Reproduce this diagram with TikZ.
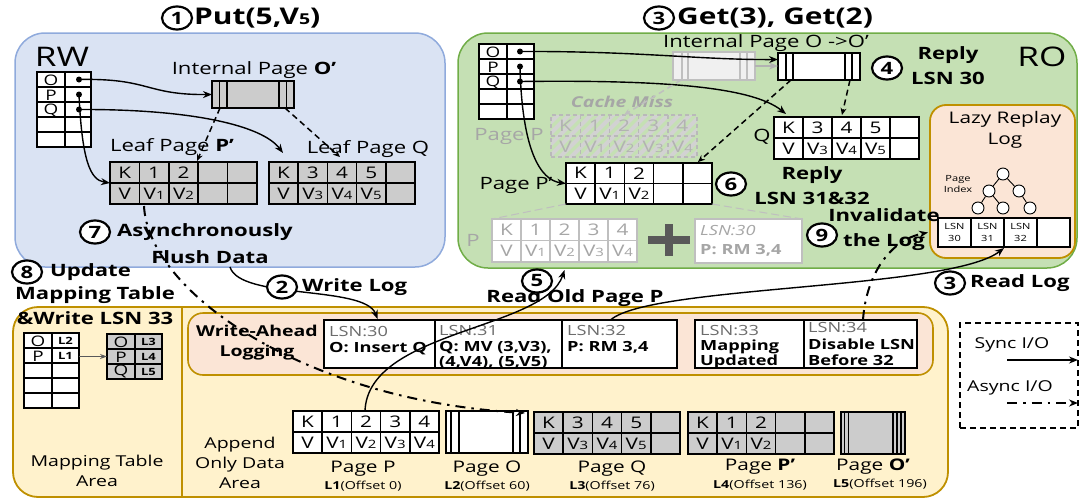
\documentclass[tikz,border=0pt]{standalone}
\usepackage{fontspec}
\setmainfont{Open Sans}[FakeStretch=1.3]
\usetikzlibrary{arrows.meta,calc,shapes.geometric}
\definecolor{rwfill}{HTML}{DAE3F3}
\definecolor{rwline}{HTML}{8FAADC}
\definecolor{rofill}{HTML}{C5E0B4}
\definecolor{roline}{HTML}{70AD47}
\definecolor{yfill}{HTML}{FFF2CC}
\definecolor{gold}{HTML}{BF9000}
\definecolor{peach}{HTML}{FBE5D6}
\definecolor{cgray}{HTML}{CCCCCC}
\definecolor{fadetxt}{HTML}{A6A6A6}
\definecolor{fadeln}{HTML}{BFBFBF}
\definecolor{plusc}{HTML}{595959}
\newcommand{\fsz}[1]{\fontsize{#1}{#1}\selectfont}
\newcommand{\sbs}[1]{{\fsz{11.5}#1}}
\newcommand{\boxnode}[6][]{\node[#1, anchor=north west, inner sep=0pt, outer sep=0pt, minimum width={(#5-#3)*1pt}, minimum height={(#6-#4)*1pt}] (#2) at (#3,#4) {};}
\newcommand{\kvt}[9]{%
  \boxnode[#6]{#1}{#2}{#3}{#4}{#5}
  \foreach \jj in {1,2,3,4}{\draw[#6,fill=none] ({#2+\jj*(#4-#2)/5},#3) -- ({#2+\jj*(#4-#2)/5},#5);}
  \draw[#6,fill=none] (#2,{(#3+#5)/2}) -- (#4,{(#3+#5)/2});
  \foreach \cc [count=\ii] in {#8}{\node[cell,text=#7] (#1-t\ii) at ({#2+(\ii-0.5)*(#4-#2)/5},{#3+(#5-#3)/4}) {\cc};}
  \foreach \cc [count=\ii] in {#9}{\node[cell,text=#7] (#1-b\ii) at ({#2+(\ii-0.5)*(#4-#2)/5},{#3+3*(#5-#3)/4}) {\cc};}
}
\begin{document}
\begin{tikzpicture}[x=1pt,y=-1pt,
  lbl/.style={inner sep=0pt, font=\fsz{17}},
  title/.style={inner sep=0pt, font=\bfseries\fsz{23}},
  stepl/.style={inner sep=0pt, align=center, font=\bfseries\fontsize{17}{25}\selectfont},
  num/.style={ellipse, draw, fill=white, line width=2.2pt, minimum width=30pt, minimum height=23pt, inner sep=0pt, font=\bfseries\fsz{17}},
  cell/.style={inner sep=0pt, font=\fsz{16}},
  rcell/.style={inner sep=0pt, font=\fsz{14.5}},
  smallb/.style={inner sep=0pt, font=\bfseries\fsz{10}},
  logt/.style={inner sep=0pt, anchor=base west, font=\fsz{14}, text=gray!85!black},
  logb/.style={inner sep=0pt, anchor=base west, font=\bfseries\fsz{14}},
  conn/.style={line width=1.4pt, -{Stealth[length=9pt,width=7pt]}},
  asyncl/.style={line width=2pt, -{Stealth[length=9pt,width=7pt]}, dash pattern=on 10pt off 6pt on 2.5pt off 6pt},
  dsh/.style={line width=1.5pt, dash pattern=on 6pt off 4pt, -{Stealth[length=7pt,width=6pt]}},
  dotn/.style={circle, fill=black, inner sep=0pt, minimum size=6pt},
  tabl/.style={draw=black, line width=1.6pt},
  gtab/.style={draw=black, line width=1.6pt, fill=cgray},
  wtab/.style={draw=black, line width=1.6pt, fill=white},
  ftab/.style={draw=fadeln, line width=1.6pt, fill=white},
  tnode/.style={circle, draw, fill=white, line width=0.9pt, minimum size=12pt, inner sep=0pt},
]
\useasboundingbox (0,0) rectangle (1080,498);

% ---------- areas
\boxnode[draw=rwline, fill=rwfill, line width=1.5pt, rounded corners=30pt]{RW}{15}{33}{445}{267}
\boxnode[draw=roline, fill=rofill, line width=1.5pt, rounded corners=30pt]{RO}{458}{33}{1077}{268}
\boxnode[draw=gold, fill=yfill, line width=1.8pt, rounded corners=25pt]{BOT}{13}{307}{948}{497}
\draw[gold, line width=1.8pt] ($(BOT.north west)+(169,0)$) -- ($(BOT.south west)+(169,0)$);
\boxnode[draw=gold, fill=peach, line width=1.6pt, rounded corners=15pt]{WAL}{188}{313}{933}{375}
\boxnode[draw=gold, fill=peach, line width=1.8pt, rounded corners=16pt]{LZ}{930}{105}{1075}{258}
\boxnode[draw=black, line width=1.3pt, dash pattern=on 6pt off 4pt]{LEG}{960}{323}{1078}{428}

% ---------- titles
\node[title, anchor=west] (tPut) at (194,18) {Put(5,V{\fsz{15}5})};
\node[title, anchor=west] (tGet) at (677,18) {Get(3), Get(2)};

% ---------- RW side
\node[inner sep=0pt, font=\fsz{27}] (RWl) at (62,57) {RW};
\boxnode[wtab]{rwT}{37}{72}{91}{147}
\draw[tabl] (65,72) -- (65,147);
\foreach \r in {87,102,117,132} \draw[tabl] (37,\r) -- (91,\r);
\node[rcell] (rwTO) at (51,80) {O};
\node[rcell] (rwTP) at (51,95) {P};
\node[rcell] (rwTQ) at (51,110) {Q};
\node[dotn] (rwdO) at (79,79.5) {};
\node[dotn] (rwdP) at (79,94.5) {};
\node[dotn] (rwdQ) at (79,109.5) {};

\node[lbl] (rwIPl) at (254,70) {Internal Page \textbf{O’}};
\boxnode[gtab]{rwIP}{212}{81}{294}{108}
\foreach \xx in {219.5,227,279,286.5} \draw[tabl] (\xx,81) -- (\xx,108);

\node[lbl] (rwLPl) at (172,147) {Leaf Page \textbf{P’}};
\kvt{rwLP}{110}{162}{257}{204}{gtab}{black}{K,1,2,{},{}}{V,V\sbs1,V\sbs2,{},{}}
\node[lbl] (rwLQl) at (368,149) {Leaf Page Q};
\kvt{rwLQ}{269}{162}{415}{204}{gtab}{black}{K,3,4,5,{}}{V,V\sbs3,V\sbs4,V\sbs5,{}}

\coordinate (rwQin) at (283,153);
\draw[conn] (rwdO.center) .. controls (150,78) and (145,95) .. (rwIP.west);
\draw[conn] (rwdP.center) .. controls (82,160) and (90,180) .. (rwLP.west);
\draw[conn] (rwdQ.center) .. controls (190,109) and (262,125) .. (rwQin);
\draw[dsh] ($(rwIP.south west)+(8,0)$) -- ($(rwLP.north west)+(87,-1)$);
\draw[dsh] ($(rwIP.south east)+(-9,0)$) -- ($(rwLQ.north west)+(71,-5)$);

\node[stepl, anchor=west] (s7a) at (117,232) {Asynchronously};
\node[stepl] (s7b) at (210,257) {Flush Data};

% ---------- RO side
\node[inner sep=0pt, font=\fsz{27}] (ROl) at (1042,57) {RO};
\boxnode[wtab]{roT}{479}{44}{534}{119}
\draw[tabl] (507,44) -- (507,119);
\foreach \r in {59,74,89,104} \draw[tabl] (479,\r) -- (534,\r);
\node[rcell] (roTO) at (493,52) {O};
\node[rcell] (roTP) at (493,67) {P};
\node[rcell] (roTQ) at (493,82) {Q};
\node[dotn] (rodO) at (520,51.5) {};
\node[dotn] (rodP) at (520,66.5) {};
\node[dotn] (rodQ) at (520,81.5) {};

\node[lbl] (roIPl) at (766,43) {Internal Page O ->O’};
\boxnode[draw=fadeln, fill=gray!12, line width=1.4pt]{faIP}{673}{52}{755}{80}
\foreach \xx in {682,688,740,747} \draw[fadeln, line width=1.4pt] (\xx,52) -- (\xx,80);
\boxnode[wtab]{roIP}{778}{53}{860}{80}
\foreach \xx in {786,793,845,852} \draw[tabl] (\xx,53) -- (\xx,80);

% cache miss page
\begin{scope}
\clip (551,115) rectangle (697,157);
\foreach \k in {0,11,...,220} \draw[line width=4pt, gray!35] ({500+\k},162) -- ++(55,-55);
\end{scope}
\kvt{cmP}{551}{115}{697}{157}{draw=gray!55, line width=1.4pt, dash pattern=on 4pt off 3pt}{gray!60}{K,1,2,3,4}{V,V\sbs1,V\sbs2,V\sbs3,V\sbs4}
\node[inner sep=0pt, font=\bfseries\itshape\fsz{15}, text=gray!70] (cmL) at (622,102) {Cache Miss};
\node[lbl, text=gray!70] (cmPl) at (509,136) {Page P};

\kvt{roPp}{566}{163}{712}{204}{wtab}{black}{K,1,2,{},{}}{V,V\sbs1,V\sbs2,{},{}}
\node[lbl] (roPpl) at (516,185) {Page P’};
\kvt{roQ}{774}{117}{919}{159}{wtab}{black}{K,3,4,5,{}}{V,V\sbs3,V\sbs4,V\sbs5,{}}
\node[lbl] (roQl) at (762,137) {Q};

% faded P + log
\kvt{faP}{492}{219}{637}{262}{ftab}{fadetxt}{K,1,2,3,4}{V,V\sbs1,V\sbs2,V\sbs3,V\sbs4}
\node[lbl, text=fadetxt] (faPl) at (473,240) {P};
\draw[plusc, line width=7.5pt] (648,240) -- (690,240);
\draw[plusc, line width=7.5pt] (669,224) -- (669,256);
\boxnode[draw=fadeln, fill=white, line width=1.8pt]{faL}{695}{219}{802}{263}
\node[inner sep=0pt, anchor=base west, font=\itshape\fsz{14}, text=fadetxt] (faLa) at (700,235) {LSN:30};
\node[inner sep=0pt, anchor=base west, font=\bfseries\fsz{14}, text=fadetxt] (faLb) at (700,254) {P: RM 3,4};
\draw[fadeln, line width=1pt, dash pattern=on 8pt off 4pt] (roPp.south west) -- (faP.north west);
\draw[fadeln, line width=1pt, dash pattern=on 8pt off 4pt] (roPp.south east) -- (faL.north east);

% lazy replay log
\node[inner sep=0pt, align=center, font=\fontsize{16}{21}\selectfont] (LZl) at (1005,130) {Lazy Replay\\Log};
\node[inner sep=0pt, align=center, font=\fontsize{8.5}{11}\selectfont] (PIl) at (958,184) {Page\\Index};
\node[tnode] (tr0) at (1003,174) {};
\node[tnode] (tr1) at (989,191) {};
\node[tnode] (tr2) at (1019,191) {};
\node[tnode] (tr3) at (978,208) {};
\node[tnode] (tr4) at (1003,208) {};
\node[tnode] (tr5) at (1030,208) {};
\draw[line width=0.9pt] (tr0) -- (tr1) (tr0) -- (tr2) (tr1) -- (tr3) (tr1) -- (tr4) (tr2) -- (tr5);
\boxnode[wtab]{LZrow}{938}{218}{1070}{247}
\foreach \xx in {971,1004,1037} \draw[tabl] (\xx,218) -- (\xx,247);
\foreach \nn/\xx in {30/954.5,31/987.5,32/1020.5}
  \node[inner sep=0pt, align=center, font=\fontsize{8.5}{12}\selectfont] (lz\nn) at (\xx,232.5) {LSN\\\nn};

\coordinate (roQin) at (786,114);
\draw[conn] (rodO.center) .. controls (640,51) and (700,60) .. ($(roIP.west)+(0,-7)$);
\draw[conn, draw=gray!60] (faIP.east) -- (faIP.east -| roIP.west);
\draw[conn] (rodP.center) .. controls (522,150) and (540,180) .. (roPp.west);
\draw[conn] (rodQ.center) .. controls (650,80) and (750,85) .. (roQin);
\draw[dsh] ($(roIP.south west)+(13,0)$) -- ($(roPp.north east)+(-14,-1)$);
\draw[dsh] ($(roIP.south east)+(-10,0)$) -- ($(roQ.north west)+(68,-2)$);
\draw[dsh, draw=fadeln] ($(faIP.south west)+(8,0)$) -- (cmP.north);

\node[stepl] (s4) at (948,66) {Reply\\LSN 30};
\node[stepl] (s6) at (812,186) {Reply\\LSN 31\&32};
\node[stepl] (s9) at (884,230) {Invalidate\\the Log};

% ---------- bottom: mapping table
\node[stepl, anchor=west] (s8a) at (50,272) {Update};
\node[stepl] (s8b) at (95,295) {Mapping Table};
\node[stepl] (s8c) at (95,318) {\&Write LSN 33};
\boxnode[wtab]{mtA}{24}{333}{79}{408}
\draw[tabl] (52,333) -- (52,408);
\foreach \r in {348,363,378,393} \draw[tabl] (24,\r) -- (79,\r);
\node[rcell] (mtAO) at (38,341) {O};
\node[rcell] (mtAP) at (38,356) {P};
\node[smallb] (mtAL2) at (65.5,341) {L2};
\node[smallb] (mtAL1) at (65.5,356) {L1};
\boxnode[gtab]{mtB}{107}{334}{162}{379}
\draw[tabl] (135,334) -- (135,379);
\foreach \r in {349,364} \draw[tabl] (107,\r) -- (162,\r);
\node[rcell] (mtBO) at (121,342) {O};
\node[rcell] (mtBP) at (121,357) {P};
\node[rcell] (mtBQ) at (121,371.5) {Q};
\node[smallb] (mtBL3) at (148.5,342) {L3};
\node[smallb] (mtBL4) at (148.5,357) {L4};
\node[smallb] (mtBL5) at (148.5,372) {L5};
\draw[line width=1pt, gray!70!black, -{Stealth[length=7pt,width=5pt]}] ($(mtA.north east)+(0,23.5)$) -- ($(mtB.north west)+(0,22.5)$);
\node[inner sep=0pt, align=center, font=\fontsize{15}{20}\selectfont] (mtl) at (97,471) {Mapping Table\\Area};

% ---------- WAL
\node[inner sep=0pt, align=center, font=\bfseries\fontsize{15}{20}\selectfont] (WALl) at (257,343) {Write-Ahead\\Logging};
\boxnode[wtab]{l30}{324}{320}{435}{368}
\boxnode[wtab]{l31}{435}{320}{562}{368}
\boxnode[wtab]{l32}{562}{320}{677}{368}
\boxnode[wtab]{l33}{695}{320}{804}{368}
\boxnode[wtab]{l34}{804}{320}{917}{368}
\node[logt] (l30a) at (329,336) {LSN:30};
\node[logb] (l30b) at (329,352) {O: Insert Q};
\node[logt] (l31a) at (439,335) {LSN:31};
\node[logb] (l31b) at (439,351) {Q: MV (3,V3),};
\node[logb] (l31c) at (439,366) {(4,V4), (5,V5)};
\node[logt] (l32a) at (567,335) {LSN:32};
\node[logb] (l32b) at (567,351) {P: RM 3,4};
\node[logt] (l33a) at (700,335) {LSN:33};
\node[logb] (l33b) at (700,350) {Mapping};
\node[logb] (l33c) at (700,365) {Updated};
\node[logt] (l34a) at (808,332) {LSN:34};
\node[logb] (l34b) at (808,349) {Disable LSN};
\node[logb] (l34c) at (808,365) {Before 32};

% ---------- data area
\node[inner sep=0pt, align=center, font=\fontsize{15}{20}\selectfont] (aol) at (240,463) {Append\\Only Data\\Area};
\kvt{dP}{293}{411}{439}{453}{wtab}{black}{K,1,2,3,4}{V,V\sbs1,V\sbs2,V\sbs3,V\sbs4}
\boxnode[wtab]{dO}{446}{411}{528}{453}
\foreach \xx in {451,459,513,520} \draw[tabl] (\xx,411) -- (\xx,453);
\kvt{dQ}{534}{412}{680}{454}{gtab}{black}{K,3,4,5,{}}{V,V\sbs3,V\sbs4,V\sbs5,{}}
\kvt{dPp}{688}{412}{834}{454}{gtab}{black}{K,1,2,{},{}}{V,V\sbs1,V\sbs2,{},{}}
\boxnode[gtab]{dOp}{841}{412}{905}{454}
\foreach \xx in {844.5,848.5,893,897,901} \draw[tabl] (\xx,412) -- (\xx,454);
\node[inner sep=0pt, font=\fsz{16}] (dPl) at (363,469) {Page P};
\node[inner sep=0pt, font=\fsz{11}] (dPo) at (363,486) {\textbf{L1}(Offset 0)};
\node[inner sep=0pt, font=\fsz{16}] (dOl) at (487,469) {Page O};
\node[inner sep=0pt, font=\fsz{11}] (dOo) at (487,486) {\textbf{L2}(Offset 60)};
\node[inner sep=0pt, font=\fsz{16}] (dQl) at (612,469) {Page Q};
\node[inner sep=0pt, font=\fsz{11}] (dQo) at (612,486) {\textbf{L3}(Offset 76)};
\node[inner sep=0pt, font=\fsz{16}] (dPpl) at (760,467) {Page \textbf{P’}};
\node[inner sep=0pt, font=\fsz{11}] (dPpo) at (760,485) {\textbf{L4}(Offset 136)};
\node[inner sep=0pt, font=\fsz{16}] (dOpl) at (873,467) {Page \textbf{O’}};
\node[inner sep=0pt, font=\fsz{11}] (dOpo) at (880,484) {\textbf{L5}(Offset 196)};

% ---------- step texts between areas
\node[stepl, anchor=west] (s2) at (302,287) {Write Log};
\node[stepl] (s5) at (575,298) {Read Old Page P};
\node[stepl, anchor=west] (s3b) at (970,283) {Read Log};

% ---------- legend
\node[inner sep=0pt, font=\fsz{15}] (lgS) at (1012,345) {Sync I/O};
\node[inner sep=0pt, font=\fsz{15}] (lgA) at (1010,388) {Async I/O};
\coordinate (lgS1) at (1007,360); \coordinate (lgS2) at (1078,360);
\coordinate (lgA1) at (1007,403); \coordinate (lgA2) at (1078,403);
\draw[conn] (lgS1) -- (lgS2);
\draw[asyncl] (lgA1) -- (lgA2);

% ---------- cross-area connectors
\coordinate (dOin) at (525,413);
\draw[asyncl] ($(rwLP.south west)+(34,2)$) .. controls (148,290) and (300,400) .. (dOin);
\draw[conn] (RW.south) .. controls (240,300) and (365,285) .. ($(l30.north)+(-2,-1)$);
\draw[conn] ($(dP.north west)+(72,0)$) .. controls (368,330) and (545,330) .. ($(faP.south)+(0,8)$);
\draw[conn] ($(l32.north)+(-9,0)$) .. controls (650,285) and (950,290) .. ($(LZrow.south west)+(66,1)$);
\draw[asyncl] ($(l34.north west)+(59,0)$) .. controls (866,275) and (890,240) .. ($(LZrow.west)+(-10,0)$);

% ---------- step numbers
\node[num] (n1) at (177,18) {1};
\node[num] (n3a) at (659,18) {3};
\node[num] (n7) at (95,232) {7};
\node[num] (n4) at (887,68) {4};
\node[num] (n6) at (731,184) {6};
\node[num] (n9) at (822,235) {9};
\node[num] (n8) at (27,272) {8};
\node[num] (n2) at (282,287) {2};
\node[num] (n5) at (537,281) {5};
\node[num] (n3b) at (950,283) {3};
\end{tikzpicture}
\end{document}
